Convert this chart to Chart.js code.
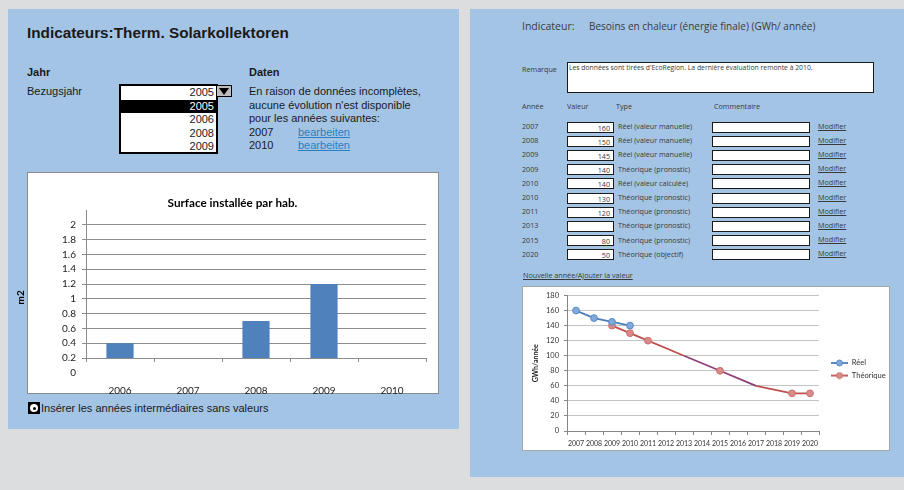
<!DOCTYPE html>
<html>
<head>
<meta charset="utf-8">
<title>Indicateurs</title>
<script src="https://cdn.jsdelivr.net/npm/chart.js@4/dist/chart.umd.min.js"></script>
<style>
  body { margin: 0; width: 904px; height: 490px; background: #dcdddf; position: relative; overflow: hidden;
         font-family: "Liberation Sans", Arial, sans-serif; color: #1a1a1a; }
  .abs { position: absolute; white-space: nowrap; line-height: 1; }
  .panel { position: absolute; background: #a4c4e6; }
  .link { color: #2a7fc4; text-decoration: underline; }
  /* left panel */
  .lt { font-size: 11px; }
  .dd { position: absolute; left: 119px; top: 84px; width: 99px; height: 70px; box-sizing: border-box;
        border: 2px solid #000; background: #fff; }
  .dd div { height: 13.5px; line-height: 13.5px; text-align: right; padding-right: 2px; font-size: 11px; }
  .dd .sel { background: #000; color: #fff; }
  .arrow { position: absolute; left: 216px; top: 85px; width: 16px; height: 12px; box-sizing: border-box;
           background: #bdbdbd; border: 1px solid #000; }
  .arrow:after { content: ""; position: absolute; left: 2px; top: 2px; border-left: 5px solid transparent;
                 border-right: 5px solid transparent; border-top: 7px solid #000; }
  .radio { position: absolute; left: 28px; top: 402px; width: 12px; height: 12px; background: #000; }
  .radio:before { content: ""; position: absolute; left: 2px; top: 2px; width: 8px; height: 8px; border-radius: 50%; background: #fff; }
  .radio:after { content: ""; position: absolute; left: 4.5px; top: 4.5px; width: 3px; height: 3px; border-radius: 50%; background: #000; }
  /* right panel */
  .r { font-family: "Open Sans", sans-serif; color: #3a3a3a; }
  .box { position: absolute; box-sizing: border-box; border: 1.5px solid #1a1a1a; background: #fff; }
  .cell { font-size: 7.2px; }
  .val { text-align: right; padding-right: 3px; line-height: 8px; font-size: 7.2px; color: #3a3a3a; font-family: "Open Sans", sans-serif; }
  .chartbox { position: absolute; box-sizing: border-box; background: #fff; border: 1px solid #8c8c8c; }
  canvas { position: absolute; }
</style>
</head>
<body>

<div class="panel" style="left:8px;top:9px;width:451px;height:420px"></div>
<div class="panel" style="left:470px;top:9px;width:434px;height:468px"></div>

<!-- left panel -->
<div class="abs" style="left:27px;top:25px;font-size:15.3px;font-weight:bold">Indicateurs:Therm. Solarkollektoren</div>
<div class="abs lt" style="left:27px;top:67px;font-weight:bold">Jahr</div>
<div class="abs lt" style="left:249px;top:67px;font-weight:bold">Daten</div>
<div class="abs lt" style="left:27px;top:86px">Bezugsjahr</div>

<div class="dd">
  <div>2005</div>
  <div class="sel">2005</div>
  <div>2006</div>
  <div>2008</div>
  <div>2009</div>
</div>
<div class="arrow"></div>

<div class="abs lt" style="left:249px;top:85px;line-height:13.5px">
  En raison de données incomplètes,<br>
  aucune évolution n'est disponible<br>
  pour les années suivantes:<br>
  2007<br>
  2010
</div>
<div class="abs lt link" style="left:298px;top:125.5px;line-height:13.5px">bearbeiten<br>bearbeiten</div>

<div class="chartbox" style="left:27px;top:172px;width:412px;height:222px"></div>
<canvas id="surfaceChart" width="426" height="222" style="left:12px;top:172px"></canvas>

<div class="radio"></div>
<div class="abs" style="left:41px;top:403px;font-size:11px">Insérer les années intermédiaires sans valeurs</div>

<!-- right panel -->
<div class="abs r" style="left:522px;top:21px;font-size:10.5px">Indicateur:</div>
<div class="abs r" style="left:589px;top:21px;font-size:10px">Besoins en chaleur (énergie finale) (GWh/ année)</div>
<div class="abs r" style="left:522px;top:66px;font-size:7.2px">Remarque</div>
<div class="box" style="left:567px;top:62px;width:307px;height:31px"></div>
<div class="abs r" style="left:569px;top:65px;font-size:6.8px">Les données sont tirées d'EcoRegion. La dernière évaluation remonte à 2010.</div>

<div class="abs r cell" style="left:522px;top:103px">Année</div>
<div class="abs r cell" style="left:567px;top:103px">Valeur</div>
<div class="abs r cell" style="left:616px;top:103px">Type</div>
<div class="abs r cell" style="left:714px;top:103px">Commentaire</div>
<div id="rows"></div>
<div class="abs r cell link" style="left:523px;top:272px">Nouvelle année/Ajouter la valeur</div>

<div class="chartbox" style="left:522px;top:286px;width:368px;height:165px;border-color:#a6a6a6"></div>
<canvas id="gwhChart" width="368" height="165" style="left:522px;top:286px"></canvas>

<script>
// ---------- data: Surface installée par hab. ----------
const barYears = ['2006', '2007', '2008', '2009', '2010'];
const surfaceValues = [0.4, null, 0.7, 1.2, null];
const surfaceTicks = [0, 0.2, 0.4, 0.6, 0.8, 1, 1.2, 1.4, 1.6, 1.8, 2];

// ---------- data: Besoins en chaleur ----------
const lineYears = ['2007', '2008', '2009', '2010', '2011', '2012', '2013', '2014',
                   '2015', '2016', '2017', '2018', '2019', '2020'];
const reelValues = [160, 150, 145, 140, null, null, null, null, null, null, null, null, null, null];
const theoValues = [null, null, 140, 130, 120, null, 100, null, 80, null, 60, null, 50, 50];
const gwhTicks = [0, 20, 40, 60, 80, 100, 120, 140, 160, 180];

// ---------- data: table ----------
const tableYears = ['2007', '2008', '2009', '2009', '2010', '2010', '2011', '2013', '2015', '2020'];
const tableValues = ['160', '150', '145', '140', '140', '130', '120', '', '80', '50'];
const tableTypes = ['Réel (valeur manuelle)', 'Réel (valeur manuelle)', 'Réel (valeur manuelle)',
                    'Théorique (pronostic)', 'Réel (valeur calculée)', 'Théorique (pronostic)',
                    'Théorique (pronostic)', 'Théorique (pronostic)', 'Théorique (pronostic)',
                    'Théorique (objectif)'];

// build the table rows
(function () {
  const rows = document.getElementById('rows');
  let html = '';
  tableYears.forEach((year, i) => {
    const cy = 127 + i * 14.2;
    html += `<div class="abs r cell" style="left:522px;top:${cy - 4}px">${year}</div>` +
            `<div class="box val" style="left:567px;top:${cy - 5.5}px;width:47px;height:11px;padding-top:1px">${tableValues[i]}</div>` +
            `<div class="abs r cell" style="left:618px;top:${cy - 4}px">${tableTypes[i]}</div>` +
            `<div class="box" style="left:712px;top:${cy - 5.5}px;width:98px;height:11px"></div>` +
            `<div class="abs r cell link" style="left:818px;top:${cy - 4.5}px">Modifier</div>`;
  });
  rows.innerHTML = html;
})();

const fixedTicks = list => scale => { scale.ticks = list.map(v => ({ value: v })); };

// ========== 1. Bar chart ==========
new Chart(document.getElementById('surfaceChart'), {
  type: 'bar',
  data: {
    labels: barYears,
    datasets: [{
      data: surfaceValues,
      backgroundColor: '#4f81bd',
      barPercentage: 0.4,
      categoryPercentage: 1,
      clip: 0
    }]
  },
  options: {
    responsive: false,
    animation: false,
    // left padding keeps the title centred on the white box
    layout: { padding: { top: 24, left: 27, right: 12, bottom: 0 } },
    plugins: {
      legend: { display: false },
      tooltip: { enabled: false },
      title: {
        display: true,
        text: 'Surface installée par hab.',
        color: '#000',
        font: { family: 'Lato', size: 11.7, weight: 'bold' },
        padding: 0
      }
    },
    scales: {
      x: {
        offset: true,
        grid: { offset: true, drawOnChartArea: false, tickLength: 4, color: '#8c8c8c' },
        border: { color: '#8c8c8c' },
        ticks: { color: '#222', font: { family: 'Lato', size: 10 }, padding: 22.5, autoSkip: false, maxRotation: 0 },
        afterFit: scale => { scale.height = 36; }
      },
      y: {
        min: 0.2,
        max: 2.2,
        afterBuildTicks: fixedTicks(surfaceTicks),
        afterFit: scale => { scale.width = 47; },
        grid: {
          color: ctx => (ctx.tick && ctx.tick.value === 0) ? 'rgba(0,0,0,0)' : '#8c8c8c',
          tickLength: 4
        },
        border: { color: '#8c8c8c' },
        ticks: { color: '#222', font: { family: 'Lato', size: 10 }, padding: 6, autoSkip: false,
                 callback: v => String(v) },
        // trailing spaces push the rotated label a bit lower, as in the source
        title: { display: true, text: 'm2           ', color: '#000', font: { family: 'Lato', size: 10, weight: 'bold' },
                 padding: { top: -24, bottom: 0 } }
      }
    }
  }
});

// ========== 2. Line chart ==========
function legendIcon(line, fill, stroke) {
  const c = document.createElement('canvas');
  c.width = 24; c.height = 8;
  const g = c.getContext('2d');
  g.strokeStyle = line; g.lineWidth = 1.8;
  g.beginPath(); g.moveTo(7, 4); g.lineTo(24, 4); g.stroke();
  g.fillStyle = fill; g.strokeStyle = stroke; g.lineWidth = 1;
  g.beginPath(); g.arc(15.5, 4, 3, 0, Math.PI * 2); g.fill(); g.stroke();
  return c;
}
const legendIcons = [legendIcon('#4a7ebb', '#7fa8dc', '#5a8ac6'), legendIcon('#c0504d', '#da8a88', '#c9706d')];

new Chart(document.getElementById('gwhChart'), {
  type: 'line',
  data: {
    labels: lineYears,
    datasets: [{
      label: 'Réel',
      data: reelValues,
      borderColor: '#4a7ebb',
      borderWidth: 1.8,
      pointBackgroundColor: '#7fa8dc',
      pointBorderColor: '#5a8ac6',
      pointBorderWidth: 1,
      pointRadius: 3.4,
      tension: 0
    }, {
      label: 'Théorique',
      data: theoValues,
      spanGaps: true,
      borderColor: '#c0504d',
      borderWidth: 1.8,
      segment: {
        // the 2013-2017 part is drawn in purple in the source
        borderColor: ctx => (ctx.p0DataIndex >= 6 && ctx.p0DataIndex < 10) ? '#8f3e78' : undefined
      },
      pointBackgroundColor: '#da8a88',
      pointBorderColor: '#c9706d',
      pointBorderWidth: 1,
      pointRadius: [0, 0, 3.4, 3.4, 3.4, 0, 0, 0, 3.4, 0, 0, 0, 3.4, 3.4],
      tension: 0
    }]
  },
  options: {
    responsive: false,
    animation: false,
    layout: { padding: { top: 7, left: 0, right: 0, bottom: 0 } },
    plugins: {
      tooltip: { enabled: false },
      legend: {
        position: 'right',
        fullSize: false,
        maxWidth: 71,
        // empty title only nudges the two entries down a little
        title: { display: true, text: ' ', font: { size: 6 }, padding: { top: 4.8, bottom: 0 } },
        labels: {
          usePointStyle: true,
          pointStyleWidth: 24,
          padding: 5,
          color: '#333',
          font: { family: 'Lato', size: 7.6 },
          generateLabels: chart => Chart.defaults.plugins.legend.labels.generateLabels(chart)
            .map((item, i) => Object.assign(item, { pointStyle: legendIcons[i] }))
        }
      }
    },
    scales: {
      x: {
        offset: true,
        grid: { offset: true, drawOnChartArea: false, tickLength: 4, color: '#868686' },
        border: { color: '#868686' },
        ticks: { color: '#333', font: { family: 'Lato', size: 7 }, padding: 4.5, autoSkip: false,
                 maxRotation: 0, minRotation: 0 },
        afterFit: scale => { scale.height = 20; }
      },
      y: {
        min: 0,
        max: 180,
        afterBuildTicks: fixedTicks(gwhTicks),
        afterFit: scale => { scale.width = 45; },
        grid: { color: '#c4c4c4', tickColor: '#868686', tickLength: 3 },
        border: { color: '#868686' },
        ticks: { color: '#333', font: { family: 'Lato', size: 7.5 }, padding: 5, autoSkip: false },
        title: { display: true, text: 'GWh/année', color: '#222', font: { family: 'Lato', size: 7, weight: 'bold' },
                 padding: { top: 10, bottom: 0 } }
      }
    }
  }
});
</script>
</body>
</html>
